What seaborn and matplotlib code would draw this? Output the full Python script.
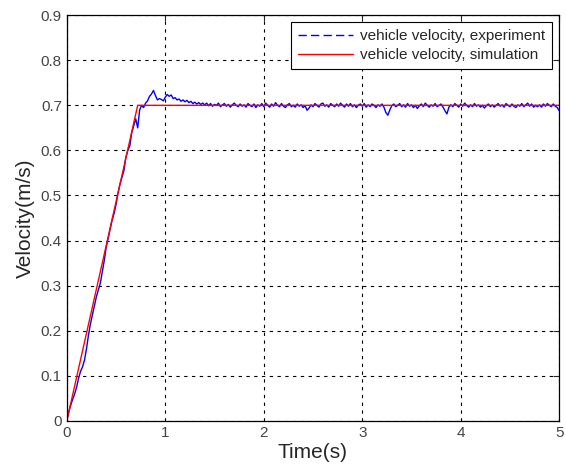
import numpy as np
import pandas as pd
import matplotlib
matplotlib.use('Agg')
import matplotlib.pyplot as plt
import seaborn as sns
from matplotlib.lines import Line2D

exp_ramp = [0.000, 0.020, 0.035, 0.048, 0.060, 0.075, 0.095, 0.110, 0.120, 0.135,
            0.160, 0.190, 0.215, 0.235, 0.255, 0.275, 0.290, 0.305, 0.330, 0.355,
            0.385, 0.405, 0.425, 0.445, 0.460, 0.480, 0.505, 0.525, 0.540, 0.555,
            0.585, 0.600, 0.610, 0.640, 0.655, 0.670, 0.650, 0.690, 0.700, 0.695,
            0.705, 0.710, 0.720, 0.725, 0.733, 0.722, 0.712, 0.715, 0.713, 0.710,
            0.718, 0.724, 0.720, 0.723, 0.715, 0.717, 0.712, 0.714, 0.709, 0.712]
exp_steady = [0.708, 0.711, 0.706, 0.709, 0.704, 0.707, 0.703, 0.706, 0.702, 0.705,
              0.701, 0.705, 0.699, 0.704, 0.698, 0.702, 0.700, 0.705, 0.697, 0.701,
              0.704, 0.698, 0.702, 0.696, 0.701, 0.705, 0.700, 0.697, 0.703, 0.698,
              0.701, 0.696, 0.704, 0.700, 0.697, 0.703, 0.695, 0.701, 0.698, 0.704,
              0.697, 0.705, 0.700, 0.696, 0.703, 0.698, 0.706, 0.700, 0.697, 0.704,
              0.698, 0.695, 0.701, 0.704, 0.697, 0.700, 0.696, 0.703, 0.698, 0.701,
              0.695, 0.699, 0.689, 0.694, 0.701, 0.697, 0.704, 0.700, 0.696, 0.703,
              0.705, 0.698, 0.701, 0.696, 0.704, 0.700, 0.697, 0.703, 0.698, 0.705,
              0.700, 0.696, 0.703, 0.698, 0.704, 0.697, 0.701, 0.695, 0.700, 0.703,
              0.698, 0.704, 0.696, 0.701, 0.697, 0.703, 0.700, 0.695, 0.701, 0.698,
              0.703, 0.696, 0.684, 0.678, 0.690, 0.699, 0.703, 0.697, 0.700, 0.704,
              0.697, 0.701, 0.696, 0.704, 0.698, 0.701, 0.695, 0.700, 0.693, 0.699,
              0.703, 0.697, 0.705, 0.700, 0.696, 0.701, 0.698, 0.704, 0.697, 0.700,
              0.703, 0.696, 0.688, 0.681, 0.696, 0.701, 0.697, 0.704, 0.700, 0.696,
              0.703, 0.698, 0.705, 0.700, 0.696, 0.701, 0.697, 0.704, 0.698, 0.701,
              0.696, 0.700, 0.694, 0.699, 0.703, 0.697, 0.701, 0.696, 0.700, 0.704,
              0.698, 0.701, 0.696, 0.704, 0.700, 0.697, 0.703, 0.698, 0.695, 0.701,
              0.698, 0.704, 0.697, 0.701, 0.705, 0.698, 0.703, 0.696, 0.700, 0.697,
              0.701, 0.696, 0.703, 0.698, 0.704, 0.700, 0.697, 0.703, 0.698, 0.695,
              0.688]
exp_vel = exp_ramp + exp_steady
exp_time = np.round(np.arange(len(exp_vel)) * 0.02, 2)

# simulation
sim_time = [0.0, 0.72, 5.0]
sim_vel = [0.0, 0.70, 0.70]

exp_df = pd.DataFrame({'t': exp_time, 'v': exp_vel})
sim_df = pd.DataFrame({'t': sim_time, 'v': sim_vel})

sns.set_style('white')
plt.rcParams['font.family'] = ['Liberation Sans', 'DejaVu Sans']

fig = plt.figure(figsize=(5.66, 4.74), dpi=100)
ax = fig.add_axes([0.118, 0.112, 0.870, 0.856])

sns.lineplot(data=exp_df, x='t', y='v', color='#0000ff', lw=1.0, ax=ax)
sns.lineplot(data=sim_df, x='t', y='v', color='#ff0000', lw=1.0, ax=ax)

ax.set_xlim(0, 5)
ax.set_ylim(0, 0.9)
ax.set_xticks(range(6))
ax.set_yticks(np.round(np.arange(0, 0.91, 0.1), 1))
ax.set_yticklabels(['0'] + [f'{v:.1f}' for v in np.arange(0.1, 0.91, 0.1)])
ax.grid(True, color='black', linestyle=(0, (3, 4)), linewidth=0.8)
ax.tick_params(direction='in', top=True, right=True, length=4, labelsize=11,
               labelcolor='#444444', width=0.8)
for s in ax.spines.values():
    s.set_color('black')
    s.set_linewidth(0.9)

ax.set_xlabel('Time(s)', fontsize=15, labelpad=2)
ax.set_ylabel('Velocity(m/s)', fontsize=15, labelpad=4)

handles = [Line2D([], [], color='#0000ff', lw=1.0, linestyle=(0, (6, 3))),
           Line2D([], [], color='#ff0000', lw=1.0)]
leg = ax.legend(handles, ['vehicle velocity, experiment', 'vehicle velocity, simulation'],
                loc='upper right', fontsize=11, frameon=True, fancybox=False,
                borderaxespad=0.45, handlelength=3.6, handletextpad=0.5,
                labelspacing=0.35, borderpad=0.45)
leg.get_frame().set_edgecolor('black')
leg.get_frame().set_linewidth(0.8)
leg.get_frame().set_alpha(1)

fig.savefig('out.png', dpi=100)
